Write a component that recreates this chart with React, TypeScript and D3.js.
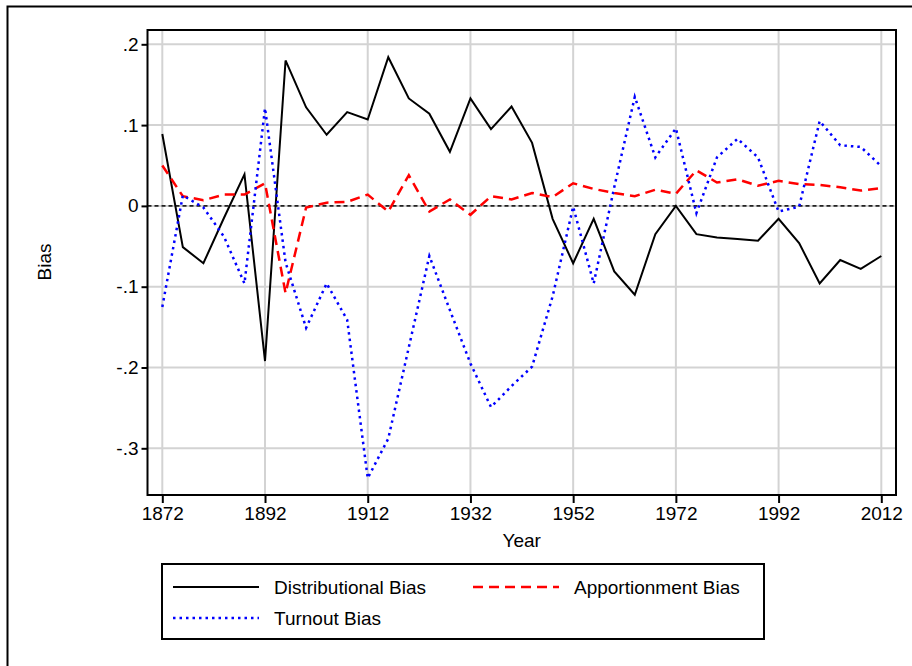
import { useEffect, useRef } from "react"
import * as d3 from "d3"

const years = d3.range(1872, 2013, 4)

const distributional = [
  0.089, -0.051, -0.071, -0.015, 0.039, -0.192, 0.18, 0.122, 0.088, 0.116, 0.107, 0.184,
  0.133, 0.114, 0.067, 0.133, 0.095, 0.123, 0.078, -0.016, -0.071, -0.016, -0.081, -0.11,
  -0.035, 0.0, -0.035, -0.039, -0.041, -0.043, -0.016, -0.046, -0.096, -0.067, -0.078, -0.062,
]

const apportionment = [
  0.05, 0.012, 0.007, 0.014, 0.014, 0.028, -0.108, -0.002, 0.004, 0.005, 0.014, -0.007,
  0.038, -0.007, 0.008, -0.011, 0.012, 0.008, 0.016, 0.011, 0.028, 0.021, 0.016, 0.012,
  0.02, 0.015, 0.044, 0.029, 0.033, 0.025, 0.031, 0.027, 0.026, 0.023, 0.019, 0.022,
]

const turnout = [
  -0.125, 0.013, -0.002, -0.038, -0.096, 0.121, -0.07, -0.151, -0.096, -0.141, -0.337, -0.288,
  -0.175, -0.062, -0.129, -0.195, -0.249, -0.223, -0.199, -0.112, -0.001, -0.096, 0.023, 0.135,
  0.06, 0.096, -0.009, 0.06, 0.083, 0.06, -0.007, -0.001, 0.105, 0.075, 0.073, 0.049,
]

const xTicks = [1872, 1892, 1912, 1932, 1952, 1972, 1992, 2012]
const yTicks = [0.2, 0.1, 0, -0.1, -0.2, -0.3]
const yTickLabels = [".2", ".1", "0", "-.1", "-.2", "-.3"]

const series = [
  { name: "Distributional Bias", values: distributional, color: "#000", dash: "", width: 2 },
  { name: "Apportionment Bias", values: apportionment, color: "#ff0000", dash: "10,6", width: 2.5 },
  { name: "Turnout Bias", values: turnout, color: "#0000ff", dash: "2.5,4", width: 2.5 },
]

const font = "'Liberation Sans', Arial, Helvetica, sans-serif"

const App = () => {
  const ref = useRef<SVGSVGElement>(null)

  useEffect(() => {
    const svg = d3.select(ref.current)
    svg.selectAll("*").remove()

    const box = { left: 147.5, top: 30, right: 896, bottom: 495 }
    const x = d3.scaleLinear().domain([1872, 2012]).range([162.3, 881.3])
    const y = d3.scaleLinear().domain([-0.3, 0.2]).range([448.3, 44.3])

    // outer frame
    svg
      .append("rect")
      .attr("x", 7.5)
      .attr("y", 6.5)
      .attr("width", 940)
      .attr("height", 700)
      .attr("fill", "none")
      .attr("stroke", "#000")
      .attr("stroke-width", 2)

    // grid
    const grid = svg.append("g").attr("stroke", "#d3d3d3").attr("stroke-width", 2)
    yTicks.forEach((t) => {
      grid
        .append("line")
        .attr("x1", box.left)
        .attr("x2", box.right)
        .attr("y1", y(t))
        .attr("y2", y(t))
    })
    xTicks.forEach((t) => {
      grid
        .append("line")
        .attr("x1", x(t))
        .attr("x2", x(t))
        .attr("y1", box.top)
        .attr("y2", box.bottom)
    })

    // zero reference line
    svg
      .append("line")
      .attr("x1", box.left)
      .attr("x2", box.right)
      .attr("y1", y(0))
      .attr("y2", y(0))
      .attr("stroke", "#222")
      .attr("stroke-width", 1.6)
      .attr("stroke-dasharray", "4,3")

    const line = d3
      .line<number>()
      .x((_, i) => x(years[i]))
      .y((d) => y(d))

    series.forEach((s) => {
      svg
        .append("path")
        .datum(s.values)
        .attr("d", line)
        .attr("fill", "none")
        .attr("stroke", s.color)
        .attr("stroke-width", s.width)
        .attr("stroke-dasharray", s.dash)
        .attr("stroke-linejoin", "miter")
    })

    // plot box
    svg
      .append("rect")
      .attr("x", box.left)
      .attr("y", box.top)
      .attr("width", box.right - box.left)
      .attr("height", box.bottom - box.top)
      .attr("fill", "none")
      .attr("stroke", "#000")
      .attr("stroke-width", 2)

    // y axis
    const yAxis = svg
      .append("g")
      .attr("transform", `translate(${box.left},0)`)
      .call(
        d3
          .axisLeft(y)
          .tickValues(yTicks)
          .tickSize(6)
          .tickPadding(3)
          .tickFormat((_, i) => yTickLabels[i]) as any
      )
    yAxis.select(".domain").remove()
    yAxis.selectAll("line").attr("stroke-width", 2)
    yAxis.selectAll("text").attr("font-size", 19).attr("font-family", font).attr("fill", "#000")

    // x axis
    const xAxis = svg
      .append("g")
      .attr("transform", `translate(0,${box.bottom})`)
      .call(d3.axisBottom(x).tickValues(xTicks).tickSize(8).tickPadding(4).tickFormat(d3.format("d")) as any)
    xAxis.select(".domain").remove()
    xAxis.selectAll("line").attr("stroke-width", 2)
    xAxis.selectAll("text").attr("font-size", 19).attr("font-family", font).attr("fill", "#000")

    svg
      .append("text")
      .attr("x", (box.left + box.right) / 2)
      .attr("y", 547)
      .attr("text-anchor", "middle")
      .attr("font-size", 19)
      .attr("font-family", font)
      .text("Year")

    svg
      .append("text")
      .attr("transform", `translate(51,262) rotate(-90)`)
      .attr("text-anchor", "middle")
      .attr("font-size", 19)
      .attr("font-family", font)
      .text("Bias")

    // legend
    const legend = svg.append("g")
    legend
      .append("rect")
      .attr("x", 162)
      .attr("y", 564)
      .attr("width", 602)
      .attr("height", 75)
      .attr("fill", "#fff")
      .attr("stroke", "#000")
      .attr("stroke-width", 2)

    const slots = [
      { x: 173, y: 587 },
      { x: 473, y: 587 },
      { x: 173, y: 618 },
    ]
    const order = [0, 1, 2]
    order.forEach((k, i) => {
      const s = series[k]
      const p = slots[i]
      legend
        .append("line")
        .attr("x1", p.x)
        .attr("x2", p.x + 86)
        .attr("y1", p.y)
        .attr("y2", p.y)
        .attr("stroke", s.color)
        .attr("stroke-width", s.width)
        .attr("stroke-dasharray", s.dash)
      legend
        .append("text")
        .attr("x", p.x + 101)
        .attr("y", p.y + 7)
        .attr("font-size", 19)
        .attr("font-family", font)
        .text(s.name)
    })
  }, [])

  return (
    <svg
      ref={ref}
      width={912}
      height={666}
      style={{ position: "absolute", left: 0, top: 0, background: "#fff" }}
    />
  )
}

export default App
